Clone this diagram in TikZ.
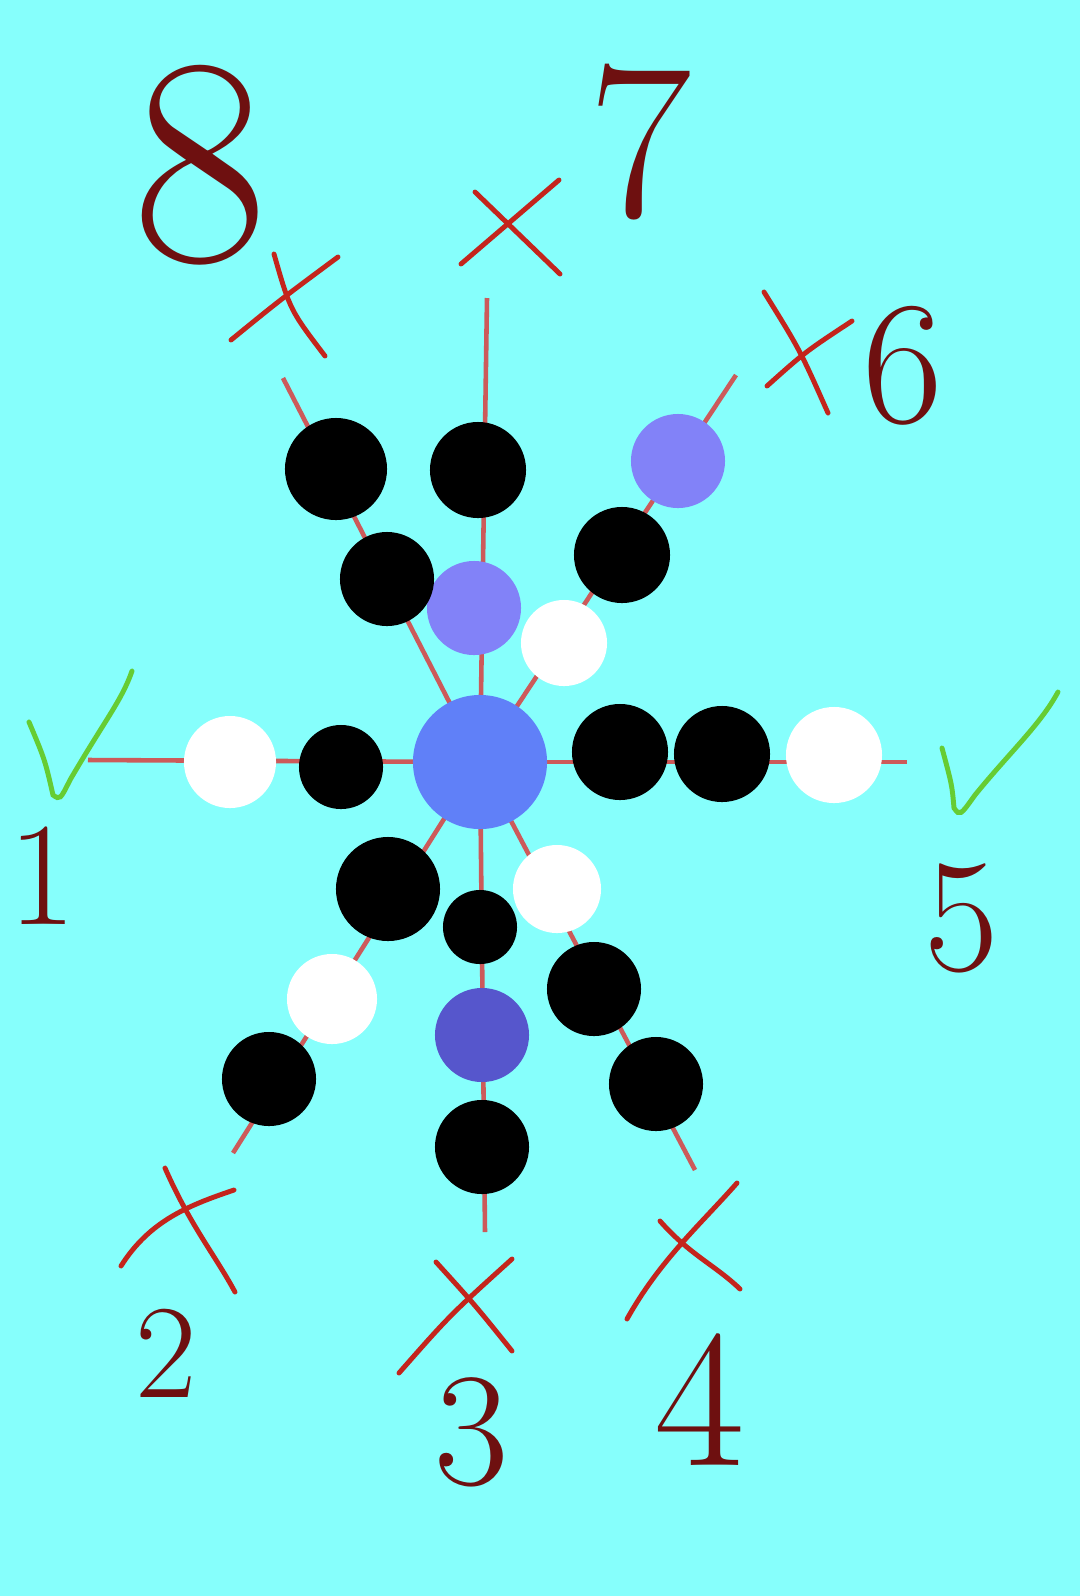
\documentclass[tikz,border=0pt]{standalone}
\usetikzlibrary{backgrounds}
\definecolor{bgcyan}{HTML}{86FFFC}
\definecolor{armred}{HTML}{CC5A5A}
\definecolor{xred}{HTML}{C4241C}
\definecolor{numred}{HTML}{6E1010}
\definecolor{okgreen}{HTML}{66CC33}
\definecolor{centreblue}{HTML}{6080F8}
\definecolor{lilac}{HTML}{8282F8}
\definecolor{deepblue}{HTML}{5656CC}
\begin{document}
\begin{tikzpicture}[x=0.01cm,y=-0.01cm,line cap=round]
    \tikzstyle{stone}=[circle,inner sep=0pt,draw=none]
    \tikzstyle{bs}=[stone,fill=black]
    \tikzstyle{ws}=[stone,fill=white]
    \tikzstyle{arm}=[draw=armred,line width=1.3pt]
    \tikzstyle{cross}=[draw=xred,line width=1.4pt]
    \tikzstyle{tick}=[draw=okgreen,line width=1.4pt]
    \tikzstyle{num}=[text=numred,inner sep=0pt]
    \useasboundingbox (0,0) rectangle (1080,1596);

    % centre
    \node[stone, fill=centreblue, minimum size=1.34cm] (c) at (480,762) {};

    % arm ends
    \coordinate (e1) at (88,760);
    \coordinate (e2) at (233,1153);
    \coordinate (e3) at (485,1232);
    \coordinate (e4) at (695,1170);
    \coordinate (e5) at (907,762);
    \coordinate (e6) at (736,375);
    \coordinate (e7) at (487,298);
    \coordinate (e8) at (283,378);

    % arm 1 (left)
    \node[ws, minimum size=0.92cm] (a1s1) at (230,762) {};
    \node[bs, minimum size=0.84cm] (a1s2) at (341,767) {};
    % arm 5 (right)
    \node[bs, minimum size=0.96cm] (a5s1) at (620,752) {};
    \node[bs, minimum size=0.96cm] (a5s2) at (722,754) {};
    \node[ws, minimum size=0.96cm] (a5s3) at (834,755) {};
    % arm 7 (up)
    \node[bs, minimum size=0.96cm] (a7s1) at (478,470) {};
    \node[stone, fill=lilac, minimum size=0.94cm] (a7s2) at (474,608) {};
    % arm 3 (down)
    \node[bs, minimum size=0.74cm] (a3s1) at (480,927) {};
    \node[stone, fill=deepblue, minimum size=0.94cm] (a3s2) at (482,1035) {};
    \node[bs, minimum size=0.94cm] (a3s3) at (482,1147) {};
    % arm 8 (upper left)
    \node[bs, minimum size=1.02cm] (a8s1) at (336,469) {};
    \node[bs, minimum size=0.94cm] (a8s2) at (387,579) {};
    % arm 6 (upper right)
    \node[stone, fill=lilac, minimum size=0.94cm] (a6s1) at (678,461) {};
    \node[bs, minimum size=0.96cm] (a6s2) at (622,555) {};
    \node[ws, minimum size=0.86cm] (a6s3) at (564,643) {};
    % arm 2 (lower left)
    \node[bs, minimum size=1.04cm] (a2s1) at (388,889) {};
    \node[ws, minimum size=0.90cm] (a2s2) at (332,999) {};
    \node[bs, minimum size=0.94cm] (a2s3) at (269,1079) {};
    % arm 4 (lower right)
    \node[ws, minimum size=0.88cm] (a4s1) at (557,889) {};
    \node[bs, minimum size=0.94cm] (a4s2) at (594,989) {};
    \node[bs, minimum size=0.94cm] (a4s3) at (656,1084) {};

    \begin{scope}[on background layer]
        \fill[bgcyan] (0,0) rectangle (1080,1596);
        \foreach \i in {1,...,8}
            \draw[arm] (c.center) -- (e\i);
    \end{scope}

    % marks
    \draw[tick] (29,722) .. controls (45,760) .. (53,795) .. controls (60,800) .. (70,780) .. controls (105,720) and (122,700) .. (132,671);
    \draw[tick] (942,748) .. controls (952,785) .. (954,808) .. controls (960,816) .. (975,795) .. controls (1010,752) and (1040,725) .. (1058,692);
    \draw[cross] (231,340) .. controls (280,300) .. (338,257);
    \draw[cross] (274,254) .. controls (290,310) .. (325,356);
    \draw[cross] (461,264) -- (559,180);
    \draw[cross] (475,192) -- (560,274);
    \draw[cross] (767,386) .. controls (805,352) .. (852,321);
    \draw[cross] (764,292) .. controls (800,350) .. (828,413);
    \draw[cross] (121,1266) .. controls (150,1220) and (190,1205) .. (234,1190);
    \draw[cross] (165,1168) .. controls (190,1225) and (215,1255) .. (235,1292);
    \draw[cross] (399,1373) .. controls (450,1315) .. (512,1259);
    \draw[cross] (436,1262) .. controls (475,1305) .. (512,1351);
    \draw[cross] (627,1319) .. controls (660,1260) and (700,1225) .. (737,1183);
    \draw[cross] (660,1221) .. controls (690,1255) and (715,1265) .. (740,1289);

    % numbers
    \node[num, font=\fontsize{84}{84}\selectfont] (n8) at (200,165) {8};
    \node[num, font=\fontsize{64}{64}\selectfont] (n7) at (640,142) {7};
    \node[num, font=\fontsize{50}{50}\selectfont] (n6) at (903,366) {6};
    \node[num, font=\fontsize{42}{42}\selectfont] (n1) at (42,876) {1};
    \node[num, font=\fontsize{46}{46}\selectfont] (n5) at (962,918) {5};
    \node[num, font=\fontsize{38}{38}\selectfont] (n2) at (166,1353) {2};
    \node[num, font=\fontsize{46}{46}\selectfont] (n3) at (472,1432) {3};
    \node[num, font=\fontsize{56}{56}\selectfont] (n4) at (700,1400) {4};
\end{tikzpicture}
\end{document}
